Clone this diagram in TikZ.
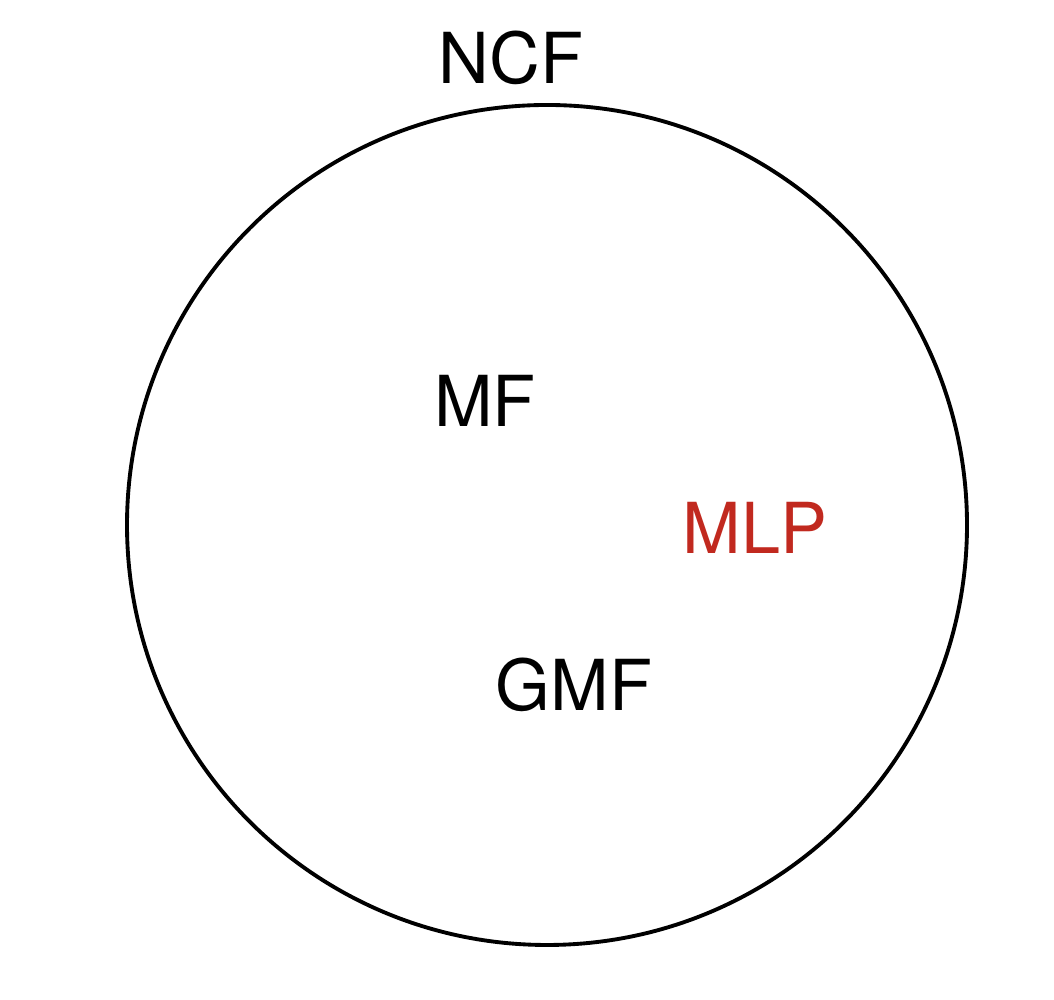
\documentclass[tikz,border=0pt]{standalone}
\usepackage{fontspec}
\setmainfont{TeX Gyre Heros}
\definecolor{myred}{HTML}{C1291F}
\usepackage{tikz}
\usetikzlibrary{positioning}
\tikzset{
	bigtext/.style={font=\fontsize{20}{24}\selectfont, inner sep=0pt}
}
\tikzset{
	ring/.style={draw, line width=1.1pt}
}

\begin{document}
\begin{tikzpicture}

			\useasboundingbox (0,0) rectangle (10.54,10);

			\coordinate (cc) at (5.47,4.75);
			\draw[ring] (cc) circle (4.2);

			\node[bigtext] (ncf) at (5.11,9.42) {NCF};
			\node[bigtext] (mf) at (4.85,5.99) {MF};
			\node[bigtext, text=myred] (mlp) at (7.55,4.72) {MLP};
			\node[bigtext] (gmf) at (5.74,3.15) {GMF};

		\end{tikzpicture}
\end{document}
